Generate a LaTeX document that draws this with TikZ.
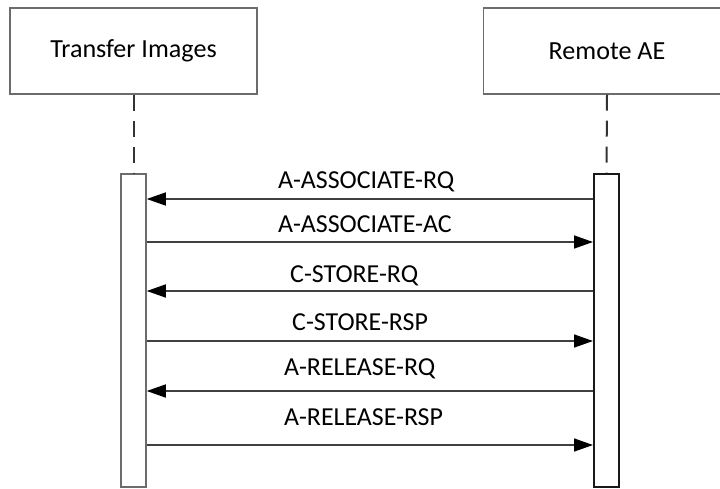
\documentclass[tikz,border=0pt]{standalone}
\usepackage{fontspec}
\setmainfont{Carlito}
\usepackage{tikz}
\usetikzlibrary{positioning,arrows.meta}

\tikzset{
  actor/.style={draw=gray!85!black, line width=1.3bp, fill=white,
    minimum width=247bp, minimum height=86bp, inner sep=0pt,
    font=\fontsize{26.2}{31}\selectfont},
  lifeline/.style={draw=black!80, line width=2bp, dash pattern=on 16bp off 10bp},
  actbox/.style={draw=gray!85!black, line width=1.5bp, fill=white,
    minimum width=25bp, minimum height=313bp, inner sep=0pt},
  msg/.style={draw=black!75, line width=1.4bp,
    -{Triangle[length=19bp, width=13bp, color=black]}},
  msgtext/.style={anchor=base west, inner sep=0pt,
    font=\fontsize{26}{31}\selectfont}
}

\begin{document}
\begin{tikzpicture}[x=1bp, y=-1bp]
  \path[use as bounding box, clip] (0,0) rectangle (720,489);
  %----- actors -----
  \node[actor] (ti) at (133.5,51) {Transfer Images};
  \node[actor] (ra) at (607,51) {Remote AE};
  %----- activation bars -----
  \node[actbox] (tiact) at (133.5,330.5) {};
  \node[actbox, draw=black!90, line width=2bp] (raact) at (606.5,330.5) {};
  %----- lifelines -----
  \draw[lifeline] (ti.south) -- (tiact.north);
  \draw[lifeline] (ra.south) -- (raact.north);
  %----- messages (arrow y / text x / text baseline / label / direction) -----
  \foreach \y/\tx/\ty/\txt/\dir [count=\i] in {
      199/278/189/A-ASSOCIATE-RQ/l,
      242/278/233/A-ASSOCIATE-AC/r,
      291/290/283/C-STORE-RQ/l,
      341/292/330/C-STORE-RSP/r,
      391/284/375/A-RELEASE-RQ/l,
      445/284/425/A-RELEASE-RSP/r}{
    \node[msgtext] (m\i) at (\tx,\ty) {\txt};
    \if\dir l
      \draw[msg] (raact.west |- {0,\y}) -- (tiact.east |- {0,\y});
    \else
      \draw[msg] (tiact.east |- {0,\y}) -- (raact.west |- {0,\y});
    \fi
  }
\end{tikzpicture}
\end{document}
